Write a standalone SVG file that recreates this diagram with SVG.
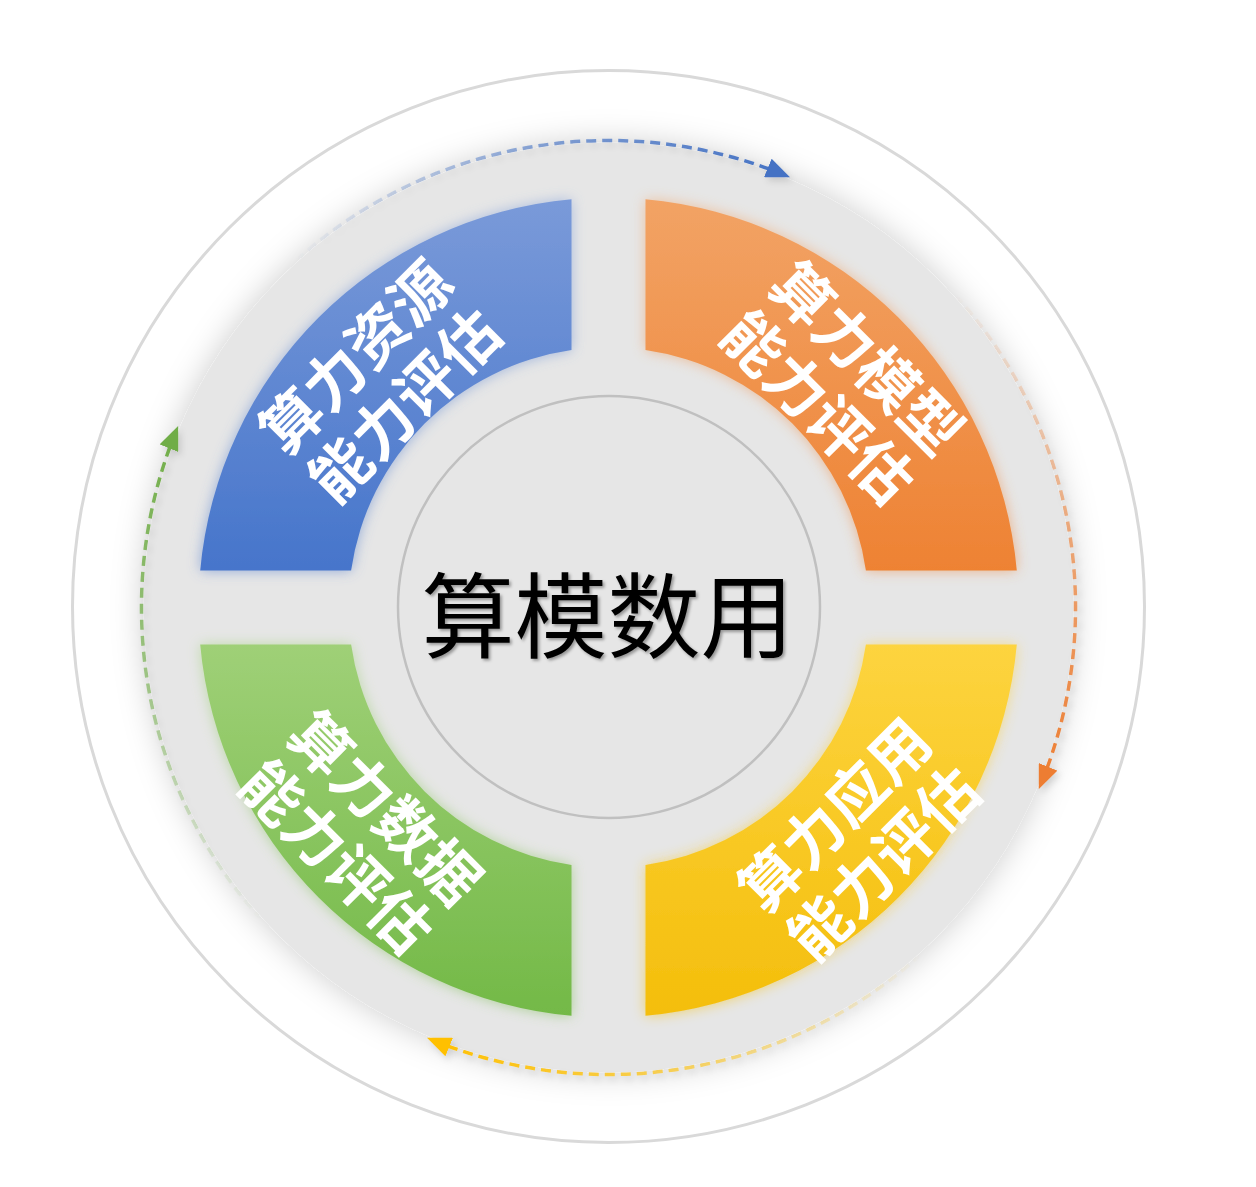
<svg xmlns="http://www.w3.org/2000/svg" width="1256" height="1187" viewBox="0 0 1256 1187">
<defs>
<style>
.lbl{font-family:"Noto Sans CJK SC","Microsoft YaHei",sans-serif;font-weight:bold;font-size:60px;fill:#ffffff;text-anchor:middle;letter-spacing:0.5px}
.ctr{font-family:"Noto Sans CJK SC","Microsoft YaHei",sans-serif;font-weight:normal;font-size:93px;fill:#000000;text-anchor:middle}
.arc{fill:none;stroke-width:3.5;stroke-dasharray:10 6}
</style>
<linearGradient id="gBlue" x1="0" y1="0" x2="0" y2="1"><stop offset="0" stop-color="#7a9ad9"/><stop offset="1" stop-color="#4675cb"/></linearGradient>
<linearGradient id="gOrange" x1="0" y1="0" x2="0" y2="1"><stop offset="0" stop-color="#f2a365"/><stop offset="1" stop-color="#ee8233"/></linearGradient>
<linearGradient id="gYellow" x1="0" y1="0" x2="0" y2="1"><stop offset="0" stop-color="#fdd43f"/><stop offset="1" stop-color="#f4be0b"/></linearGradient>
<linearGradient id="gGreen" x1="0" y1="0" x2="0" y2="1"><stop offset="0" stop-color="#9fd077"/><stop offset="1" stop-color="#73b947"/></linearGradient>
<linearGradient id="aBlue" gradientUnits="userSpaceOnUse" x1="296" y1="260.5" x2="787.2" y2="176"><stop offset="0" stop-color="#4472c4" stop-opacity="0"/><stop offset="0.5" stop-color="#4472c4" stop-opacity="0.6"/><stop offset="1" stop-color="#4472c4" stop-opacity="1"/></linearGradient>
<linearGradient id="aOrange" gradientUnits="userSpaceOnUse" x1="296" y1="260.5" x2="787.2" y2="176"><stop offset="0" stop-color="#ed7d31" stop-opacity="0"/><stop offset="0.5" stop-color="#ed7d31" stop-opacity="0.6"/><stop offset="1" stop-color="#ed7d31" stop-opacity="1"/></linearGradient>
<linearGradient id="aYellow" gradientUnits="userSpaceOnUse" x1="296" y1="260.5" x2="787.2" y2="176"><stop offset="0" stop-color="#ffc000" stop-opacity="0"/><stop offset="0.5" stop-color="#ffc000" stop-opacity="0.6"/><stop offset="1" stop-color="#ffc000" stop-opacity="1"/></linearGradient>
<linearGradient id="aGreen" gradientUnits="userSpaceOnUse" x1="296" y1="260.5" x2="787.2" y2="176"><stop offset="0" stop-color="#70ad47" stop-opacity="0"/><stop offset="0.5" stop-color="#70ad47" stop-opacity="0.6"/><stop offset="1" stop-color="#70ad47" stop-opacity="1"/></linearGradient>
<marker id="mBlue" markerUnits="userSpaceOnUse" markerWidth="26" markerHeight="20" refX="21" refY="10" orient="auto"><path d="M0,0 L24,10 L0,20 Z" fill="#4472c4"/></marker>
<marker id="mOrange" markerUnits="userSpaceOnUse" markerWidth="26" markerHeight="20" refX="21" refY="10" orient="auto"><path d="M0,0 L24,10 L0,20 Z" fill="#ed7d31"/></marker>
<marker id="mYellow" markerUnits="userSpaceOnUse" markerWidth="26" markerHeight="20" refX="21" refY="10" orient="auto"><path d="M0,0 L24,10 L0,20 Z" fill="#ffc000"/></marker>
<marker id="mGreen" markerUnits="userSpaceOnUse" markerWidth="26" markerHeight="20" refX="21" refY="10" orient="auto"><path d="M0,0 L24,10 L0,20 Z" fill="#70ad47"/></marker>
<filter id="diskShadow" x="-15%" y="-15%" width="130%" height="130%">
<feDropShadow dx="0" dy="0" stdDeviation="16" flood-color="#000" flood-opacity="0.2"/>
</filter>
<filter id="glow" x="-20%" y="-20%" width="140%" height="140%">
<feGaussianBlur in="SourceGraphic" stdDeviation="7" result="b"/>
<feComponentTransfer in="b" result="b2"><feFuncA type="linear" slope="0.55"/></feComponentTransfer>
<feMerge><feMergeNode in="b2"/><feMergeNode in="SourceGraphic"/></feMerge>
</filter>
<filter id="arcShadow" x="-20%" y="-20%" width="140%" height="140%">
<feDropShadow dx="3" dy="4" stdDeviation="3" flood-color="#000" flood-opacity="0.12"/>
</filter>
<filter id="txtShadow" x="-10%" y="-20%" width="120%" height="140%">
<feDropShadow dx="2" dy="2" stdDeviation="1.5" flood-color="#000" flood-opacity="0.35"/>
</filter>
</defs>
<rect x="0" y="0" width="1256" height="1187" fill="#ffffff"/>
<circle id="outer-ring" cx="608.5" cy="606.5" r="536" fill="none" stroke="#d9d9d9" stroke-width="3"/>
<circle id="disk" cx="608.5" cy="607.5" r="465" fill="#e6e6e6" filter="url(#diskShadow)"/>

<g id="node-resource">
<path d="M200.2,570.5 A410,410 0 0 1 571.5,199.2 L571.5,350.1 A260,260 0 0 0 351.1,570.5 Z" fill="url(#gBlue)" filter="url(#glow)"/>
<g transform="translate(380 381) rotate(-45)"><text class="lbl" x="0.3" y="-12">算力资源</text><text class="lbl" x="0.3" y="57">能力评估</text></g>
</g>
<g id="node-model">
<path d="M645.5,199.2 A410,410 0 0 1 1016.8,570.5 L865.9,570.5 A260,260 0 0 0 645.5,350.1 Z" fill="url(#gOrange)" filter="url(#glow)"/>
<g transform="translate(842.5 382.5) rotate(45)"><text class="lbl" x="0.3" y="-12">算力模型</text><text class="lbl" x="0.3" y="57">能力评估</text></g>
</g>
<g id="node-application">
<path d="M1016.8,644.5 A410,410 0 0 1 645.5,1015.8 L645.5,864.9 A260,260 0 0 0 865.9,644.5 Z" fill="url(#gYellow)" filter="url(#glow)"/>
<g transform="translate(859 839) rotate(-45)"><text class="lbl" x="0.3" y="-12">算力应用</text><text class="lbl" x="0.3" y="57">能力评估</text></g>
</g>
<g id="node-data">
<path d="M571.5,1015.8 A410,410 0 0 1 200.2,644.5 L351.1,644.5 A260,260 0 0 0 571.5,864.9 Z" fill="url(#gGreen)" filter="url(#glow)"/>
<g transform="translate(361 832) rotate(45)"><text class="lbl" x="0.3" y="-12">算力数据</text><text class="lbl" x="0.3" y="57">能力评估</text></g>
</g>
<g id="node-center">
<circle cx="609" cy="607" r="211" fill="#e6e6e6" stroke="#c0c0c0" stroke-width="2.5"/>
<text class="ctr" x="607.5" y="651" filter="url(#txtShadow)">算模数用</text>
</g>

<g id="connectors">
<g filter="url(#arcShadow)"><path class="arc" d="M296,260.5 A467,467 0 0 1 787.2,176" stroke="url(#aBlue)" marker-end="url(#mBlue)"/></g>
<g filter="url(#arcShadow)"><g transform="rotate(90 608.5 607.5)"><path class="arc" d="M296,260.5 A467,467 0 0 1 787.2,176" stroke="url(#aOrange)" marker-end="url(#mOrange)"/></g></g>
<g filter="url(#arcShadow)"><g transform="rotate(180 608.5 607.5)"><path class="arc" d="M296,260.5 A467,467 0 0 1 787.2,176" stroke="url(#aYellow)" marker-end="url(#mYellow)"/></g></g>
<g filter="url(#arcShadow)"><g transform="rotate(270 608.5 607.5)"><path class="arc" d="M296,260.5 A467,467 0 0 1 787.2,176" stroke="url(#aGreen)" marker-end="url(#mGreen)"/></g></g>
</g>
</svg>
